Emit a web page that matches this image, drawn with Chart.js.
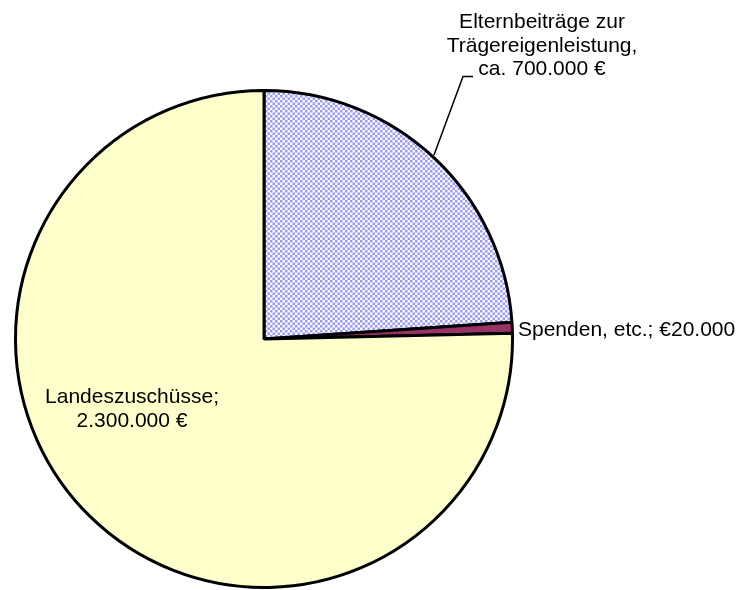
<!DOCTYPE html>
<html lang="de">
  <head>
    <meta charset="UTF-8" />
    <script src="https://cdn.jsdelivr.net/npm/chart.js@4.4.1/dist/chart.umd.min.js"></script>
    <title>Finanzierung</title>
    <style>
      body { margin: 0; background: #fff; }
    </style>
  </head>
  <body>
    <canvas id="myChart" width="742" height="590"></canvas>
    <script>
      // slices clockwise from 12 o'clock
      const categories = ["Elternbeiträge zur Trägereigenleistung", "Spenden, etc.", "Landeszuschüsse"];
      // values (labels say ca. 700.000 / 20.000 / 2.300.000)
      const values = [730000, 22000, 2300000];
      const labelLines = [
        ["Elternbeiträge zur", "Trägereigenleistung,", "ca. 700.000 €"],
        ["Spenden, etc.; €20.000"],
        ["Landeszuschüsse;", "2.300.000 €"],
      ];

      // blue/white checker fill for the first slice (cells ~2.5px)
      function checker() {
        const c = document.createElement("canvas");
        c.width = 10;
        c.height = 10;
        const g = c.getContext("2d");
        g.fillStyle = "#ffffff";
        g.fillRect(0, 0, 10, 10);
        g.fillStyle = "#9999ff";
        for (let i = 0; i < 4; i++) {
          for (let j = 0; j < 4; j++) {
            if ((i + j) % 2 === 0) g.fillRect(i * 2.5, j * 2.5, 2.5, 2.5);
          }
        }
        return g.createPattern(c, "repeat");
      }

      const labelPlugin = {
        id: "sliceLabels",
        afterDraw(chart) {
          const ctx = chart.ctx;
          ctx.save();
          ctx.fillStyle = "#000";
          ctx.font = "21px 'Liberation Sans', Arial, sans-serif";
          ctx.textBaseline = "alphabetic";

          // Elternbeiträge, above right with leader line
          ctx.textAlign = "center";
          labelLines[0].forEach((t, i) => ctx.fillText(t, 542, 28 + i * 23.5));
          ctx.strokeStyle = "#000";
          ctx.lineWidth = 1.5;
          ctx.beginPath();
          ctx.moveTo(473, 76.5);
          ctx.lineTo(463, 76.5);
          ctx.lineTo(434, 155);
          ctx.stroke();

          // Spenden, right of pie
          ctx.textAlign = "left";
          ctx.fillText(labelLines[1][0], 518, 336);

          // Landeszuschüsse, inside the yellow slice
          ctx.textAlign = "center";
          labelLines[2].forEach((t, i) => ctx.fillText(t, 132, 403 + i * 24));
          ctx.restore();
        },
      };

      const ctx = document.getElementById("myChart").getContext("2d");
      const myChart = new Chart(ctx, {
        type: "pie",
        data: {
          labels: categories,
          datasets: [
            {
              data: values,
              backgroundColor: [checker(), "#993366", "#ffffcc"],
              borderColor: "#000000",
              borderWidth: 3,
            },
          ],
        },
        options: {
          responsive: false,
          animation: false,
          layout: { padding: { left: 14, top: 89, right: 228, bottom: 1 } },
          plugins: {
            legend: { display: false },
            tooltip: { enabled: false },
          },
        },
        plugins: [labelPlugin],
      });
    </script>
  </body>
</html>
